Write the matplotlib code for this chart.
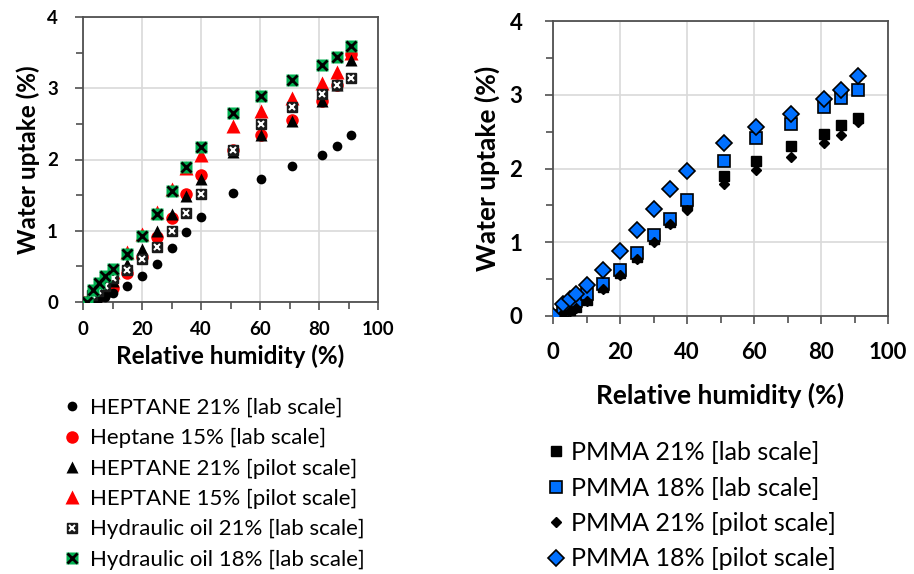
import matplotlib
matplotlib.use("Agg")
import matplotlib.pyplot as plt
from matplotlib.ticker import MultipleLocator

plt.rcParams['font.family'] = ['Lato', 'DejaVu Sans']

# ---- Relative humidity steps (%) ----
rh = [0, 3, 5, 7.5, 10, 15, 20, 25, 30, 35, 40, 51, 60.5, 71, 81, 86, 91]
rh_oil18 = [1.5, 3.5, 5.5, 7.5, 10, 15, 20, 25, 30, 35, 40, 51, 60.5, 71, 81, 86, 91]
rh_pmma = [0, 3, 5, 7, 10, 15, 20, 25, 30, 35, 40, 51, 60.5, 71, 81, 86, 91]
rh_pmma_lab18 = [1.5, 3, 5, 7, 10, 15, 20, 25, 30, 35, 40, 51, 60.5, 71, 81, 86, 91]

# ---- Water uptake (%) : left panel ----
heptane21_lab = [0, 0.02, 0.04, 0.07, 0.12, 0.22, 0.37, 0.54, 0.76, 0.98, 1.20,
                 1.53, 1.73, 1.91, 2.07, 2.19, 2.34]
heptane15_lab = [0, 0.04, 0.07, 0.12, 0.20, 0.41, 0.63, 0.91, 1.18, 1.52, 1.78,
                 2.14, 2.35, 2.56, 2.82, 3.05, 3.48]
heptane21_pilot = [0, 0.05, 0.10, 0.16, 0.30, 0.54, 0.75, 1.00, 1.24, 1.49, 1.73,
                   2.11, 2.34, 2.54, 2.82, 3.04, 3.40]
heptane15_pilot = [0, 0.15, 0.22, 0.30, 0.42, 0.70, 0.96, 1.26, 1.58, 1.88, 2.07,
                   2.47, 2.68, 2.87, 3.07, 3.23, 3.50]
oil21_lab = [0, 0.10, 0.15, 0.22, 0.33, 0.45, 0.61, 0.77, 1.00, 1.25, 1.52,
             2.14, 2.50, 2.73, 2.92, 3.04, 3.15]
oil18_lab = [0, 0.17, 0.26, 0.36, 0.46, 0.68, 0.93, 1.23, 1.56, 1.89, 2.18,
             2.65, 2.89, 3.12, 3.32, 3.44, 3.59]

# ---- Water uptake (%) : right panel ----
pmma21_lab = [0, 0.05, 0.08, 0.12, 0.22, 0.39, 0.58, 0.80, 1.04, 1.28, 1.50,
              1.90, 2.10, 2.31, 2.47, 2.59, 2.68]
pmma18_lab = [0, 0.08, 0.13, 0.20, 0.30, 0.44, 0.62, 0.85, 1.10, 1.31, 1.57,
              2.10, 2.42, 2.61, 2.84, 2.95, 3.06]
pmma21_pilot = [0, 0.04, 0.07, 0.11, 0.20, 0.36, 0.56, 0.77, 1.01, 1.25, 1.44,
                1.79, 1.98, 2.16, 2.35, 2.46, 2.63]
pmma18_pilot = [0, 0.16, 0.23, 0.30, 0.42, 0.63, 0.88, 1.16, 1.45, 1.72, 1.96,
                2.35, 2.56, 2.74, 2.94, 3.07, 3.26]

left_labels = ["HEPTANE 21% [lab scale]", "Heptane 15% [lab scale]",
               "HEPTANE 21% [pilot scale]", "HEPTANE 15% [pilot scale]",
               "Hydraulic oil 21% [lab scale]", "Hydraulic oil 18% [lab scale]"]
right_labels = ["PMMA 21% [lab scale]", "PMMA 18% [lab scale]",
                "PMMA 21% [pilot scale]", "PMMA 18% [pilot scale]"]

RED = '#ff0000'
GREEN = '#00b050'
BLUE = '#0070ff'
FRAME = '#505050'
GRID = '#d9d9d9'

fig = plt.figure(figsize=(9.14, 5.74), dpi=100)
axL = fig.add_axes([83 / 914, 1 - 302 / 574, 295 / 914, 285 / 574])
axR = fig.add_axes([553 / 914, 1 - 316 / 574, 335 / 914, 295 / 574])


def style_axes(ax, tick_size, label_size, xpad, ypad):
    ax.set_xlim(0, 100)
    ax.set_ylim(0, 4)
    ax.xaxis.set_major_locator(MultipleLocator(20))
    ax.xaxis.set_minor_locator(MultipleLocator(10))
    ax.yaxis.set_major_locator(MultipleLocator(1))
    ax.yaxis.set_minor_locator(MultipleLocator(0.5))
    ax.grid(True, which='major', color=GRID, linewidth=1.2, zorder=0)
    ax.set_axisbelow(True)
    for s in ax.spines.values():
        s.set_color(FRAME)
        s.set_linewidth(1.3)
    ax.tick_params(which='both', direction='out', color=FRAME, width=1.2)
    ax.tick_params(which='major', length=6)
    ax.tick_params(which='minor', length=5)
    ax.tick_params(axis='x', labelsize=tick_size, pad=xpad)
    ax.tick_params(axis='y', labelsize=tick_size, pad=ypad)
    for lab in ax.get_xticklabels() + ax.get_yticklabels():
        lab.set_fontweight('bold')
    ax.set_xlabel('Relative humidity (%)', fontsize=label_size, fontweight='bold')
    ax.set_ylabel('Water uptake (%)', fontsize=label_size, fontweight='bold')


# Left panel
hL = []
hL.append(axL.plot(rh, heptane21_lab, 'o', color='black', ms=7, mec='none', zorder=3)[0])
hL.append(axL.plot(rh, heptane15_lab, 'o', color=RED, ms=9, mec='none', zorder=2)[0])
hL.append(axL.plot(rh, heptane21_pilot, '^', color='black', ms=8, mec='none', zorder=5)[0])
hL.append(axL.plot(rh, heptane15_pilot, '^', color=RED, ms=9.5, mec='none', zorder=4)[0])
o21s = axL.plot(rh, oil21_lab, 's', color='#1a1a1a', ms=7.5, mec='#1a1a1a', zorder=6)[0]
o21x = axL.plot(rh, oil21_lab, 'x', color='white', ms=5, mew=1.5, zorder=7)[0]
o18s = axL.plot(rh_oil18, oil18_lab, 's', color=GREEN, ms=8.5, mec='none', zorder=8)[0]
o18x = axL.plot(rh_oil18, oil18_lab, 'x', color='black', ms=6.5, mew=2, zorder=9)[0]
hL.append((o21s, o21x))
hL.append((o18s, o18x))

# Right panel
hR = []
hR.append(axR.plot(rh_pmma, pmma21_lab, 's', color='black', ms=6.5, mec='black', zorder=3)[0])
hR.append(axR.plot(rh_pmma_lab18, pmma18_lab, 's', color=BLUE, ms=9, mec='black', mew=1.2, zorder=4)[0])
hR.append(axR.plot(rh_pmma, pmma21_pilot, 'D', color='black', ms=5.5, mec='black', zorder=5)[0])
hR.append(axR.plot(rh_pmma, pmma18_pilot, 'D', color=BLUE, ms=8, mec='black', mew=1.2, zorder=6)[0])

style_axes(axL, 13.5, 17.5, xpad=8, ypad=12)
style_axes(axR, 16, 19, xpad=13, ypad=16)
axL.xaxis.labelpad = 4
axL.yaxis.labelpad = 5
axR.xaxis.labelpad = 14
axR.yaxis.labelpad = 7

fig.legend(hL, left_labels, loc='upper left',
           bbox_to_anchor=(62 / 914, 1 - 398 / 574), frameon=False,
           fontsize=16, handlelength=0.9, handletextpad=0.35,
           labelspacing=0.46, borderpad=0, borderaxespad=0)
fig.legend(hR, right_labels, loc='upper left',
           bbox_to_anchor=(546 / 914, 1 - 441 / 574), frameon=False,
           fontsize=18, handlelength=0.8, handletextpad=0.2,
           labelspacing=0.5, borderpad=0, borderaxespad=0)

fig.savefig('out.png', dpi=100)
